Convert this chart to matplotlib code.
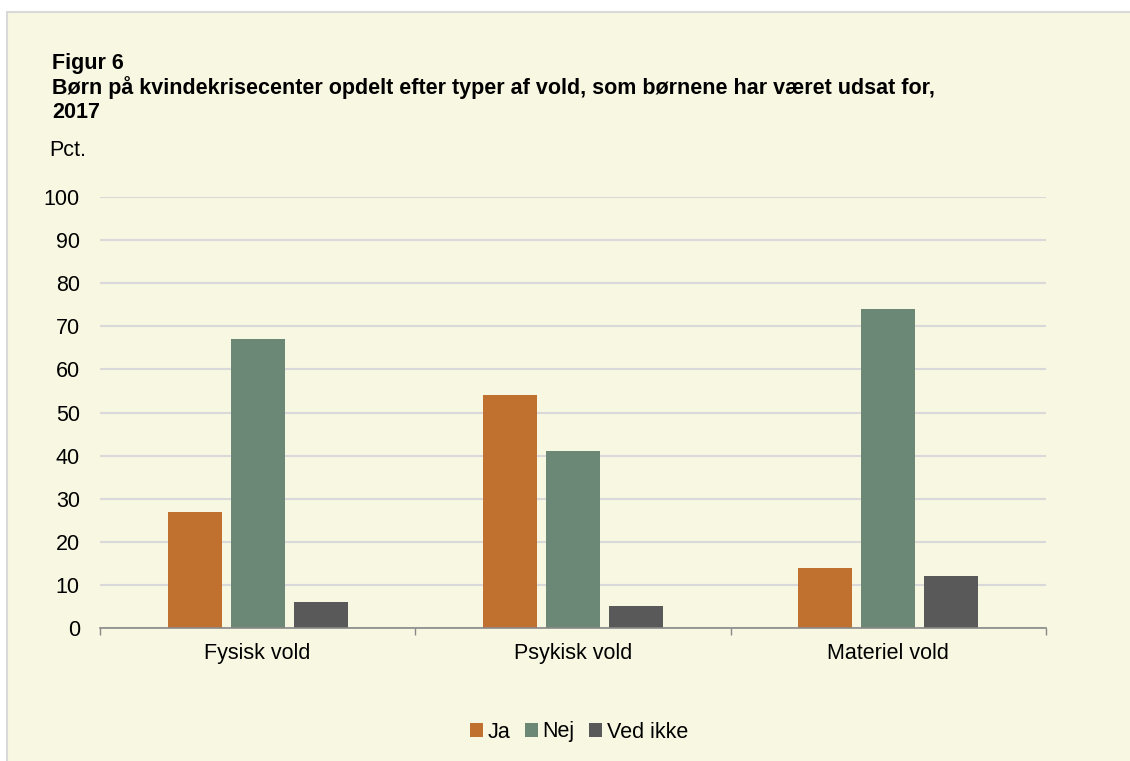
import numpy as np
import matplotlib
matplotlib.use("Agg")
from matplotlib import pyplot as plt
from matplotlib.patches import Rectangle

categories = ["Fysisk vold", "Psykisk vold", "Materiel vold"]
series = ["Ja", "Nej", "Ved ikke"]
ja = [27, 54, 14]
nej = [67, 41, 74]
ved_ikke = [6, 5, 12]
yticks = [0, 10, 20, 30, 40, 50, 60, 70, 80, 90, 100]

colors = ["#C0712F", "#6B8776", "#595959"]
bg = "#F8F7E1"

plt.rcParams["font.family"] = ["Liberation Sans", "DejaVu Sans"]

fig = plt.figure(figsize=(11.3, 7.61), dpi=100)
fig.patch.set_facecolor("white")
# cream panel with gray border
fig.patches.append(Rectangle((7 / 1130, -0.01), 1.0, 1 - 12 / 761 + 0.01,
                             transform=fig.transFigure, facecolor=bg,
                             edgecolor="#D9D9D9", linewidth=1.5, zorder=-10))

W, H = 1130, 761
ax = fig.add_axes([100 / W, 1 - 628 / H, 946 / W, (628 - 197) / H])
ax.set_facecolor(bg)
ax.patch.set_alpha(0)

x = np.arange(len(categories))
width = 0.171
step = 0.2
for i, (name, vals) in enumerate(zip(series, [ja, nej, ved_ikke])):
    ax.bar(x + (i - 1) * step, vals, width, color=colors[i], label=name, zorder=3)

ax.set_xlim(-0.5, 2.5)
ax.set_ylim(0, 100)
ax.set_yticks(yticks)
ax.set_yticklabels([str(t) for t in yticks], fontsize=15.5)
ax.yaxis.grid(True, color="#D9D9D9", linewidth=1.5, zorder=0)
ax.tick_params(axis="y", length=0, pad=14.5)

ax.set_xticks(x)
ax.set_xticklabels(categories, fontsize=15.5)
ax.tick_params(axis="x", length=0, pad=11)
ax.set_xticks([-0.5, 0.5, 1.5, 2.5], minor=True)
ax.tick_params(axis="x", which="minor", length=5, color="#898989", width=1)

for s in ["top", "right", "left"]:
    ax.spines[s].set_visible(False)
ax.spines["bottom"].set_color("#898989")
ax.spines["bottom"].set_linewidth(1.2)
ax.spines["bottom"].set_zorder(4)

fig.text(52 / W, 1 - 64 / H, "Figur 6", fontsize=15.5, fontweight="bold", va="center")
fig.text(52 / W, 1 - 88 / H,
         "Børn på kvindekrisecenter opdelt efter typer af vold, som børnene har været udsat for,",
         fontsize=15.5, fontweight="bold", va="center")
fig.text(52 / W, 1 - 112 / H, "2017", fontsize=15.5, fontweight="bold", va="center")
fig.text(49 / W, 1 - 151 / H, "Pct.", fontsize=15.5, va="center")

leg = fig.legend(loc="center", bbox_to_anchor=(579 / W, 1 - 732 / H), ncol=3,
                 frameon=False, fontsize=15.5, handlelength=0.6, handleheight=0.6,
                 handletextpad=0.2, columnspacing=0.7)

fig.savefig("out.png", dpi=100, facecolor=fig.get_facecolor())
